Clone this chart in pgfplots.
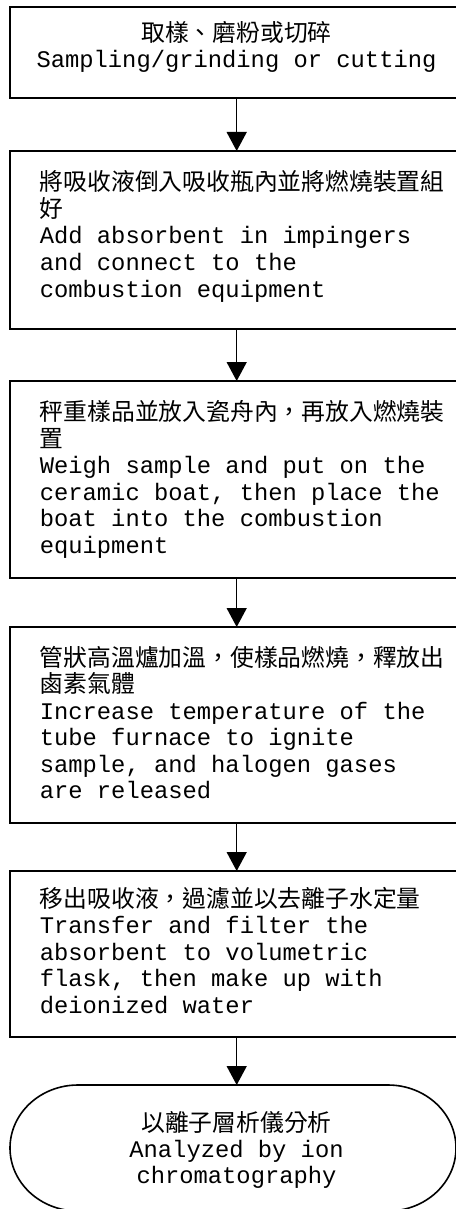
\documentclass[border=0pt]{standalone}
\usepackage{pgfplots}
\pgfplotsset{compat=1.18}
\usepackage{fontspec}
\setmainfont{Liberation Mono}
\newfontfamily\cjk{Noto Sans CJK TC}
\usetikzlibrary{arrows.meta}
\begin{document}
\fontsize{23.8bp}{26bp}\selectfont
\begin{tikzpicture}
\useasboundingbox (0,0) rectangle (456bp,1209bp);
\clip (0,0) rectangle (456bp,1209bp);
\begin{axis}[
  at={(0,0)}, anchor=south west,
  scale only axis, width=456bp, height=1209bp,
  xmin=0, xmax=456, ymin=0, ymax=1209, y dir=reverse,
  axis lines=none, clip=false,
  every node/.style={inner sep=0pt, outer sep=0pt, font=\fontsize{23.8bp}{26bp}\selectfont},
]
% boxes
\addplot[black, line width=2bp, mark=none, line join=miter] coordinates {(9.5,7) (466,7) (466,98.5) (9.5,98.5)} -- cycle;
\addplot[black, line width=2bp, mark=none, line join=miter] coordinates {(9.5,151) (466,151) (466,329) (9.5,329)} -- cycle;
\addplot[black, line width=2bp, mark=none, line join=miter] coordinates {(9.5,381) (466,381) (466,578) (9.5,578)} -- cycle;
\addplot[black, line width=2bp, mark=none, line join=miter] coordinates {(9.5,627) (466,627) (466,823) (9.5,823)} -- cycle;
\addplot[black, line width=2bp, mark=none, line join=miter] coordinates {(9.5,871) (466,871) (466,1037) (9.5,1037)} -- cycle;
% arrows
\addplot[black, line width=1.5bp, mark=none, -{Triangle[width=20bp,length=19bp]}] coordinates {(236.7,98.5) (236.7,151)};
\addplot[black, line width=1.5bp, mark=none, -{Triangle[width=20bp,length=19bp]}] coordinates {(236.7,329) (236.7,381)};
\addplot[black, line width=1.5bp, mark=none, -{Triangle[width=20bp,length=19bp]}] coordinates {(236.7,578) (236.7,627)};
\addplot[black, line width=1.5bp, mark=none, -{Triangle[width=20bp,length=19bp]}] coordinates {(236.7,823) (236.7,871)};
\addplot[black, line width=1.5bp, mark=none, -{Triangle[width=20bp,length=19bp]}] coordinates {(236.7,1037) (236.7,1085)};
% terminal
\draw[black, line width=1.6bp] (axis cs:78,1085) -- (axis cs:388,1085)
  arc[start angle=90, end angle=-90, x radius=68bp, y radius=63bp]
  -- (axis cs:78,1211)
  arc[start angle=270, end angle=90, x radius=68bp, y radius=63bp] -- cycle;
% box 1
\node[anchor=base] at (axis cs:236.5,42) {\cjk 取樣、磨粉或切碎};
\node[anchor=base] at (axis cs:236.5,67.5) {Sampling/grinding or cutting};
% box 2
\node[anchor=base west] at (axis cs:31.7,191) {\cjk 將吸收液倒入吸收瓶內並將燃燒裝置組};
\node[anchor=base west] at (axis cs:31.7,217.5) {\cjk 好};
\node[anchor=base west] at (axis cs:31.7,244) {Add absorbent in impingers};
\node[anchor=base west] at (axis cs:31.7,270.5) {and connect to the};
\node[anchor=base west] at (axis cs:31.7,297) {combustion equipment};
% box 3
\node[anchor=base west] at (axis cs:31.7,420.5) {\cjk 秤重樣品並放入瓷舟內，再放入燃燒裝};
\node[anchor=base west] at (axis cs:31.7,447) {\cjk 置};
\node[anchor=base west] at (axis cs:31.7,473.5) {Weigh sample and put on the};
\node[anchor=base west] at (axis cs:31.7,500) {ceramic boat, then place the};
\node[anchor=base west] at (axis cs:31.7,526.5) {boat into the combustion};
\node[anchor=base west] at (axis cs:31.7,553) {equipment};
% box 4
\node[anchor=base west] at (axis cs:31.7,666) {\cjk 管狀高溫爐加溫，使樣品燃燒，釋放出};
\node[anchor=base west] at (axis cs:31.7,692.5) {\cjk 鹵素氣體};
\node[anchor=base west] at (axis cs:31.7,719) {Increase temperature of the};
\node[anchor=base west] at (axis cs:31.7,745.5) {tube furnace to ignite};
\node[anchor=base west] at (axis cs:31.7,772) {sample, and halogen gases};
\node[anchor=base west] at (axis cs:31.7,798.5) {are released};
% box 5
\node[anchor=base west] at (axis cs:31.7,907) {\cjk 移出吸收液，過濾並以去離子水定量};
\node[anchor=base west] at (axis cs:31.7,933.5) {Transfer and filter the};
\node[anchor=base west] at (axis cs:31.7,960) {absorbent to volumetric};
\node[anchor=base west] at (axis cs:31.7,986.5) {flask, then make up with};
\node[anchor=base west] at (axis cs:31.7,1013) {deionized water};
% terminal text
\node[anchor=base] at (axis cs:236.5,1131) {\cjk 以離子層析儀分析};
\node[anchor=base] at (axis cs:236.5,1157) {Analyzed by ion};
\node[anchor=base] at (axis cs:236.5,1183) {chromatography};
\end{axis}
\end{tikzpicture}
\end{document}
